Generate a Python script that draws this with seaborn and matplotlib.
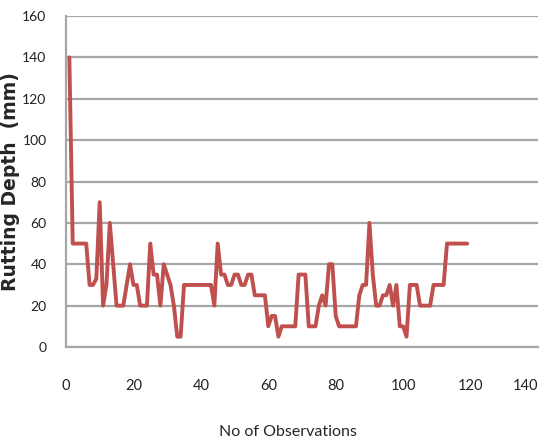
import numpy as np
import pandas as pd
import matplotlib
matplotlib.use('Agg')
import matplotlib.pyplot as plt
import seaborn as sns

depth = [140, 50, 50, 50, 50, 50, 30, 30, 33, 70,
         20, 30, 60, 40, 20, 20, 20, 30, 40, 30,
         30, 20, 20, 20, 50, 35, 35, 20, 40, 35,
         30, 20, 5, 5, 30, 30, 30, 30, 30, 30,
         30, 30, 30, 20, 50, 35, 35, 30, 30, 35,
         35, 30, 30, 35, 35, 25, 25, 25, 25, 10,
         15, 15, 5, 10, 10, 10, 10, 10, 35, 35,
         35, 10, 10, 10, 20, 25, 20, 40, 40, 15,
         10, 10, 10, 10, 10, 10, 25, 30, 30, 60,
         35, 20, 20, 25, 25, 30, 20, 30, 10, 10,
         5, 30, 30, 30, 20, 20, 20, 20, 30, 30,
         30, 30, 50, 50, 50, 50, 50, 50, 50]
obs = list(range(1, len(depth) + 1))

x_ticks = [0, 20, 40, 60, 80, 100, 120, 140]
y_ticks = [0, 20, 40, 60, 80, 100, 120, 140, 160]

df = pd.DataFrame({'obs': obs, 'depth': depth})

sns.set_style('white')
plt.rcParams['font.family'] = ['Lato', 'DejaVu Sans']

fig = plt.figure(figsize=(5.48, 4.47), dpi=100)
ax = fig.add_axes([0.1204, 0.2237, 0.8614, 0.7405])

sns.lineplot(data=df, x='obs', y='depth', color='#C0504D', linewidth=2.8, ax=ax)

ax.set_xlim(0, 140)
ax.set_ylim(0, 160)
ax.set_xticks(x_ticks)
ax.set_yticks(y_ticks)
ax.yaxis.grid(True, color='#A6A6A6', linewidth=1.6)
ax.xaxis.grid(False)
ax.set_axisbelow(True)

for s in ['top', 'right']:
    ax.spines[s].set_visible(False)
for s in ['left', 'bottom']:
    ax.spines[s].set_color('#A6A6A6')
    ax.spines[s].set_linewidth(1.6)

ax.tick_params(axis='x', length=0, pad=23, labelsize=10.5, labelcolor='#222222')
ax.tick_params(axis='y', length=0, pad=14, labelsize=10, labelcolor='#222222')
# last x label sits left of its tick so it stays inside the figure
ax.get_xticklabels()[-1].set_horizontalalignment('right')

ax.set_xlabel('No of Observations', fontsize=11.5)
ax.xaxis.set_label_coords(0.47, -0.235)
ax.set_ylabel('Rutting Depth  (mm)', fontsize=13.5, fontweight='bold',
              family=['DejaVu Sans'])
ax.yaxis.set_label_coords(-0.097, 0.5)

fig.savefig('out.png', dpi=100)
